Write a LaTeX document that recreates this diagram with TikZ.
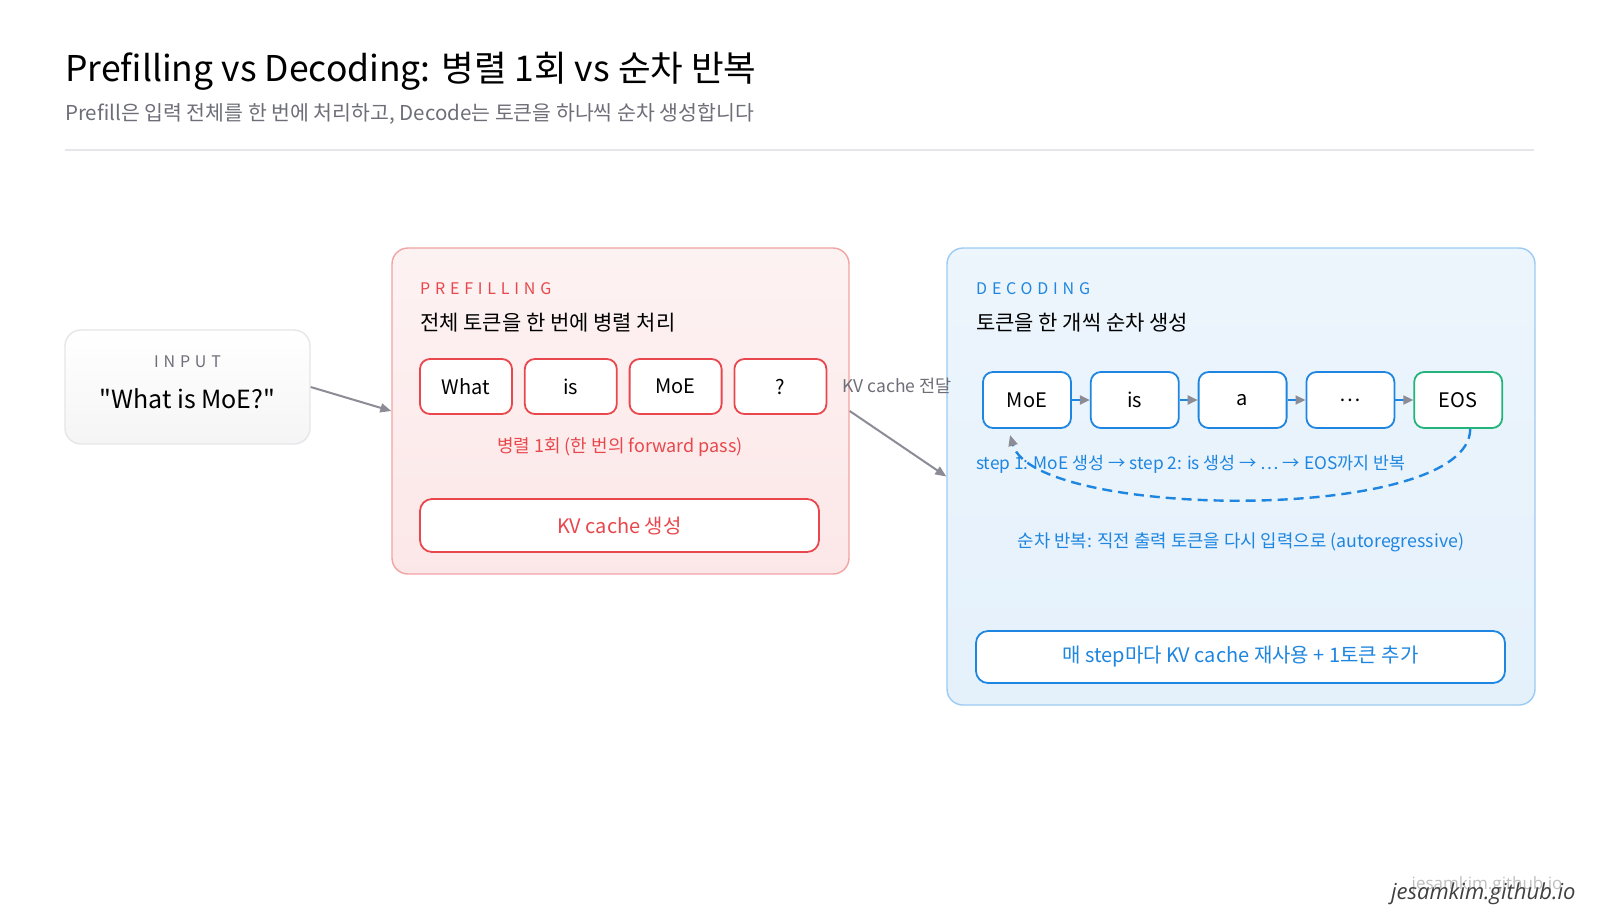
\documentclass[tikz,border=0pt]{standalone}
\usepackage{fontspec}
\setmainfont{Noto Sans CJK KR}[Ligatures=TeXOff]
\newfontfamily\capsfont[LetterSpace=30,Ligatures=TeXOff]{Noto Sans CJK KR}
\newfontfamily\wmfont{Open Sans}
\usetikzlibrary{positioning,arrows.meta}

\definecolor{prered}{HTML}{E8484D}
\definecolor{prebord}{HTML}{F2A3A3}
\definecolor{decblue}{HTML}{1E86E0}
\definecolor{decbord}{HTML}{9CCBF3}
\definecolor{eosgreen}{HTML}{22B47A}
\definecolor{arrgray}{HTML}{8C8C96}
\definecolor{subgray}{HTML}{6E6E78}
\definecolor{rulegray}{HTML}{E6E6EA}

\tikzset{
  panel/.style={rounded corners=16pt,line width=1.4pt,inner sep=0pt},
  tok/.style={draw,rounded corners=10pt,fill=white,line width=1.8pt,inner sep=0pt,
    font=\fontsize{20}{24}\selectfont},
  ptok/.style={tok,draw=prered,minimum width=92pt,minimum height=55pt},
  dtok/.style={tok,draw=decblue,minimum width=88pt,minimum height=56pt},
  bar/.style={draw,rounded corners=12pt,fill=white,line width=1.8pt,inner sep=0pt,
    font=\fontsize{20}{24}\selectfont},
  capslbl/.style={font=\capsfont\fontsize{16}{20}\selectfont,anchor=base west,inner sep=0pt},
  heading/.style={font=\fontsize{21}{25}\selectfont,anchor=base west,inner sep=0pt},
  flow/.style={draw=arrgray,line width=2pt,-{Triangle[length=11pt,width=9pt]}},
  chain/.style={draw=decblue,line width=2pt,-{Triangle[length=10pt,width=9pt,color=arrgray]}},
  loopback/.style={draw=decblue,line width=2.4pt,dash pattern=on 10pt off 6pt,
    -{Triangle[length=11pt,width=9pt,color=arrgray]}}
}

\begin{document}
\begin{tikzpicture}[x=1pt,y=-1pt]
  \useasboundingbox[fill=white] (0,0) rectangle (1600,914);

  % 제목
  \node[anchor=base west,inner sep=0pt,font=\fontsize{35.5}{42}\selectfont] (title) at (65,81)
    {Prefilling vs Decoding: 병렬 1회 vs 순차 반복};
  \node[anchor=base west,inner sep=0pt,text=subgray,font=\fontsize{20.5}{24}\selectfont] (subtitle) at (65,120)
    {Prefill은 입력 전체를 한 번에 처리하고, Decode는 토큰을 하나씩 순차 생성합니다};
  \coordinate (ruleL) at (65,150);
  \coordinate (ruleR) at (1534,150);
  \draw[rulegray,line width=1.2pt] (ruleL) -- (ruleR);

  % 입력
  \node[panel,draw=rulegray,top color=white,bottom color=black!4,
    minimum width=245pt,minimum height=114pt] (input) at (187.5,387) {};
  \node[font=\capsfont\fontsize{16}{20}\selectfont,text=subgray] (inlbl) at (187.5,362) {INPUT};
  \node[font=\fontsize{25}{30}\selectfont] (inq) at (187.5,399) {"What is MoE?"};

  % Prefilling
  \node[panel,draw=prebord,top color=prered!7,bottom color=prered!13,
    minimum width=457pt,minimum height=326pt] (prefill) at (620.5,411) {};
  \node[capslbl,text=prered] (prelbl) at (420,294) {PREFILLING};
  \node[heading] (prehead) at (420,330) {전체 토큰을 한 번에 병렬 처리};
  \node[ptok] (p1) at (466,386.5) {What};
  \node[ptok,right=11pt of p1] (p2) {is};
  \node[ptok,right=11pt of p2] (p3) {MoE};
  \node[ptok,right=11pt of p3] (p4) {?};
  \node[text=prered,font=\fontsize{18}{22}\selectfont] (prenote) at (620,447)
    {병렬 1회 (한 번의 forward pass)};
  \node[bar,draw=prered,text=prered,minimum width=399pt,minimum height=53pt] (kvnew)
    at (619.5,525.5) {KV cache 생성};

  % Decoding
  \node[panel,draw=decbord,top color=decblue!8,bottom color=decblue!12,
    minimum width=588pt,minimum height=457pt] (decode) at (1241,476.5) {};
  \node[capslbl,text=decblue] (declbl) at (976,294) {DECODING};
  \node[heading] (dechead) at (976,330) {토큰을 한 개씩 순차 생성};
  \node[dtok] (d1) at (1027,400) {MoE};
  \node[dtok,right=18pt of d1] (d2) {is};
  \node[dtok,right=18pt of d2] (d3) {a};
  \node[dtok,right=18pt of d3] (d4) {…};
  \node[dtok,draw=eosgreen,right=18pt of d4] (d5) {EOS};
  \foreach \a/\b in {d1/d2,d2/d3,d3/d4,d4/d5}
    \draw[chain] (\a) -- (\b);
  \node[anchor=west,inner sep=0pt,text=decblue,font=\fontsize{17.3}{21}\selectfont] (steps) at (976,464)
    {step 1: MoE 생성 → step 2: is 생성 → … → EOS까지 반복};
  \draw[loopback] ([xshift=12pt]d5.south) .. controls +(0,95) and +(25,85) .. ([xshift=-17pt,yshift=-6pt]d1.south);
  \node[text=decblue,font=\fontsize{17.8}{21}\selectfont] (autoreg) at (1241,542)
    {순차 반복: 직전 출력 토큰을 다시 입력으로 (autoregressive)};
  \node[bar,draw=decblue,text=decblue,minimum width=529pt,minimum height=52pt] (reuse)
    at (1240.5,657) {매 step마다 KV cache 재사용 + 1토큰 추가};

  % 연결
  \draw[flow] (input.east) -- (prefill.west);
  \draw[flow] (prefill.east) -- (decode.west);
  \node[text=subgray,font=\fontsize{17.5}{21}\selectfont] (kvpass) at (897,386) {KV cache 전달};

  % 워터마크
  \node[anchor=base east,text=black!25,font=\wmfont\fontsize{17}{20}\selectfont] (wmback)
    at (1566,889) {jesamkim.github.io};
  \node[anchor=base east,text=black!75,font=\wmfont\itshape\fontsize{22}{26}\selectfont] (wm)
    at (1579,899) {jesamkim.github.io};
\end{tikzpicture}
\end{document}
